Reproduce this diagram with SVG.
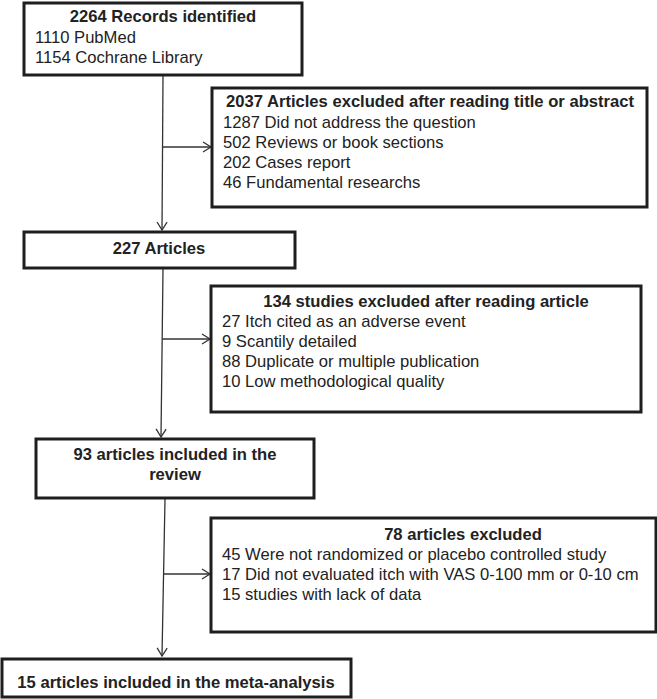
<svg xmlns="http://www.w3.org/2000/svg" width="657" height="699" viewBox="0 0 657 699">
<style>
.box{fill:#fff;stroke:#1e1e1e;stroke-width:3}
.t{font-family:"Liberation Sans",Arial,sans-serif;font-size:16.6px;fill:#222}
.b{font-weight:bold}
.c{text-anchor:middle}
.ln{fill:none;stroke:#333;stroke-width:1.3}
</style>
<defs>
<marker id="ah" markerWidth="12" markerHeight="12" refX="10" refY="6" orient="auto" markerUnits="userSpaceOnUse">
<path d="M2,1 L10,6 L2,11" fill="none" stroke="#333" stroke-width="1.3"/>
</marker>
</defs>
<g id="connectors">
<line class="ln" x1="163" y1="76" x2="162" y2="230" marker-end="url(#ah)"/>
<line class="ln" x1="162" y1="147" x2="211" y2="147" marker-end="url(#ah)"/>
<line class="ln" x1="163" y1="269" x2="161" y2="437" marker-end="url(#ah)"/>
<line class="ln" x1="162" y1="339" x2="210" y2="339" marker-end="url(#ah)"/>
<line class="ln" x1="165" y1="499" x2="162" y2="656" marker-end="url(#ah)"/>
<line class="ln" x1="163" y1="574" x2="210" y2="574" marker-end="url(#ah)"/>
</g>
<g id="records">
<rect class="box" x="24" y="3" width="278" height="72"/>
<text class="t b c" x="163" y="22">2264 Records identified</text>
<text class="t" x="35" y="43">1110 PubMed</text>
<text class="t" x="35" y="63">1154 Cochrane Library</text>
</g>
<g id="excluded1">
<rect class="box" x="212" y="88" width="435" height="119"/>
<text class="t b c" x="430" y="107">2037 Articles excluded after reading title or abstract</text>
<text class="t" x="223" y="128">1287 Did not address the question</text>
<text class="t" x="223" y="148">502 Reviews or book sections</text>
<text class="t" x="223" y="168">202 Cases report</text>
<text class="t" x="223" y="188">46 Fundamental researchs</text>
</g>
<g id="articles227">
<rect class="box" x="24" y="232" width="271" height="36"/>
<text class="t b c" x="159" y="254">227 Articles</text>
</g>
<g id="excluded2">
<rect class="box" x="211" y="286" width="430" height="126"/>
<text class="t b c" x="426" y="307">134 studies excluded after reading article</text>
<text class="t" x="222" y="327">27 Itch cited as an adverse event</text>
<text class="t" x="222" y="347">9 Scantily detailed</text>
<text class="t" x="222" y="367">88 Duplicate or multiple publication</text>
<text class="t" x="222" y="387">10 Low methodological quality</text>
</g>
<g id="review93">
<rect class="box" x="36" y="439" width="278" height="59"/>
<text class="t b c" x="175" y="460">93 articles included in the</text>
<text class="t b c" x="175" y="480">review</text>
</g>
<g id="excluded3">
<rect class="box" x="211" y="518" width="445" height="114"/>
<text class="t b c" x="463" y="540">78 articles excluded</text>
<text class="t" x="222" y="560">45 Were not randomized or placebo controlled study</text>
<text class="t" x="222" y="580">17 Did not evaluated itch with VAS 0-100 mm or 0-10 cm</text>
<text class="t" x="222" y="600">15 studies with lack of data</text>
</g>
<g id="meta15">
<rect class="box" x="2" y="659" width="349" height="38"/>
<text class="t b c" x="176" y="688">15 articles included in the meta-analysis</text>
</g>
</svg>
